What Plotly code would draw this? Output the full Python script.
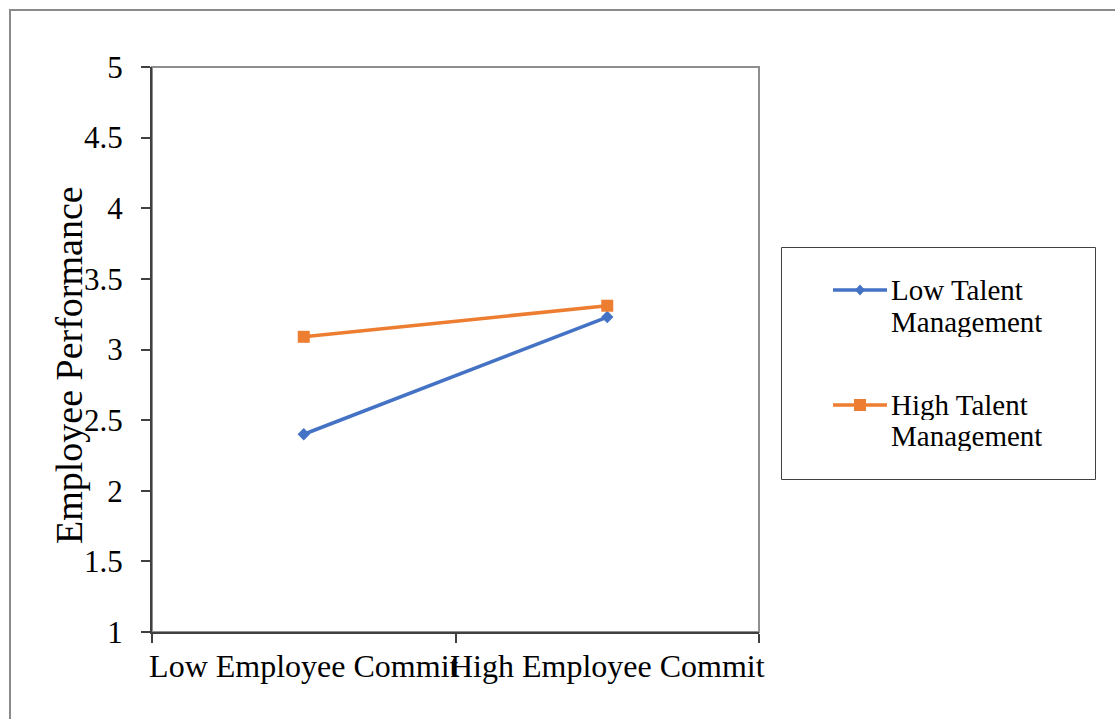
import plotly.graph_objects as go

categories = ["Low Employee Commit", "High Employee Commit"]
low_talent = [2.40, 3.23]
high_talent = [3.09, 3.31]
series_names = ["Low Talent<br>Management", "High Talent<br>Management"]
y_ticks = [1, 1.5, 2, 2.5, 3, 3.5, 4, 4.5, 5]
y_tick_text = ["1", "1.5", "2", "2.5", "3", "3.5", "4", "4.5", "5"]

BLUE = "#4472C4"
ORANGE = "#ED7D31"
FONT = "Liberation Serif, Times New Roman, serif"

W, H = 1115, 719
L, R, T, B = 152, 759, 67, 632


def px(x):
    return (x - L) / (R - L)


def py(y):
    return (B - y) / (B - T)


fig = go.Figure()
fig.add_trace(go.Scatter(x=categories, y=low_talent, mode="lines+markers",
                         name=series_names[0], showlegend=False,
                         line=dict(color=BLUE, width=3.5),
                         marker=dict(symbol="diamond", size=9.5, color=BLUE)))
fig.add_trace(go.Scatter(x=categories, y=high_talent, mode="lines+markers",
                         name=series_names[1], showlegend=False,
                         line=dict(color=ORANGE, width=3.5),
                         marker=dict(symbol="square", size=12, color=ORANGE)))

shapes = []
# outer chart border
shapes.append(dict(type="rect", xref="paper", yref="paper",
                   x0=px(10), x1=px(1125), y0=py(729), y1=py(10),
                   line=dict(color="#8a8a8a", width=2), layer="below"))
# plot area border
shapes.append(dict(type="rect", xref="paper", yref="paper",
                   x0=0, x1=1, y0=0, y1=1,
                   line=dict(color="#8f8f8f", width=2), layer="below"))
# legend box
shapes.append(dict(type="rect", xref="paper", yref="paper",
                   x0=px(781.5), x1=px(1095.5), y0=py(479.5), y1=py(247.5),
                   line=dict(color="#404040", width=1), fillcolor="white", layer="above"))

annotations = []
legend_rows = [(290, BLUE, "diamond", series_names[0]), (405, ORANGE, "square", series_names[1])]
for yc, col, sym, name in legend_rows:
    shapes.append(dict(type="line", xref="paper", yref="paper",
                       x0=px(833), x1=px(887), y0=py(yc), y1=py(yc),
                       line=dict(color=col, width=3.5)))
    if sym == "diamond":
        path = "M {} {} L {} {} L {} {} L {} {} Z".format(
            px(855), py(yc), px(860), py(yc - 5.5), px(865), py(yc), px(860), py(yc + 5.5))
    else:
        path = "M {} {} L {} {} L {} {} L {} {} Z".format(
            px(854), py(yc - 6), px(866), py(yc - 6), px(866), py(yc + 6), px(854), py(yc + 6))
    shapes.append(dict(type="path", xref="paper", yref="paper", path=path,
                       fillcolor=col, line=dict(color=col, width=0)))
    lines = name.split("<br>")
    for i, t in enumerate(lines):
        annotations.append(dict(text=t, xref="paper", yref="paper",
                                x=px(889), y=py(yc - 1 + i * 32), xanchor="left", yanchor="middle",
                                showarrow=False, align="left", height=31,
                                font=dict(family=FONT, size=29, color="black")))

# y axis title
annotations.append(dict(text="Employee Performance", xref="paper", yref="paper",
                        x=px(69), y=py(365), xanchor="center", yanchor="middle",
                        textangle=-90, showarrow=False,
                        font=dict(family=FONT, size=38, color="black")))

fig.update_layout(
    width=W, height=H,
    margin=dict(l=L, r=W - R, t=T, b=H - B, pad=0, autoexpand=False),
    paper_bgcolor="white", plot_bgcolor="white",
    showlegend=False,
    shapes=shapes, annotations=annotations,
    font=dict(family=FONT, color="black"),
)
fig.update_xaxes(type="category", range=[-0.5, 1.5], tickson="boundaries",
                 showline=True, linecolor="#404040", linewidth=2,
                 ticks="outside", ticklen=9, tickwidth=1.5, tickcolor="#404040",
                 showgrid=False, zeroline=False, tickangle=0, automargin=False,
                 ticklabelstandoff=5,
                 tickfont=dict(family=FONT, size=32, color="black"))
fig.update_yaxes(range=[1, 5], tickvals=y_ticks, ticktext=y_tick_text,
                 showline=True, linecolor="#404040", linewidth=2,
                 ticks="outside", ticklen=9, tickwidth=1.5, tickcolor="#404040",
                 showgrid=False, zeroline=False, ticklabelstandoff=12, automargin=False,
                 tickfont=dict(family=FONT, size=31, color="black"))

fig.write_html("out.html")
